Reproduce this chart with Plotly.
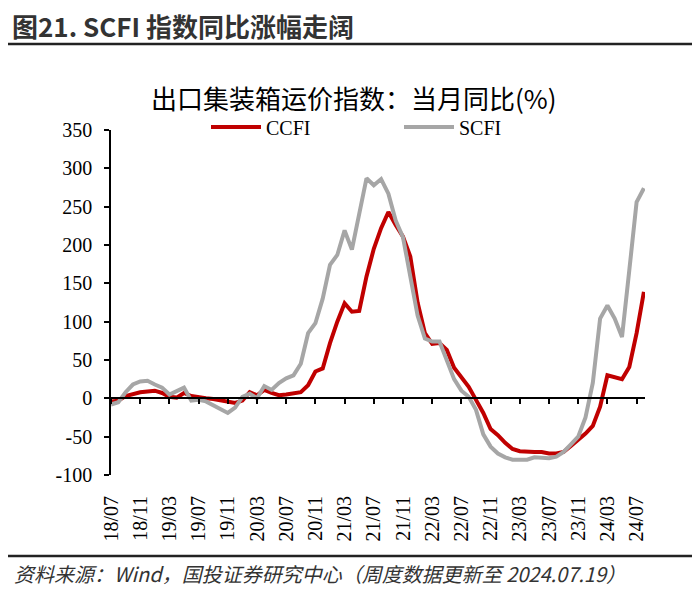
import plotly.graph_objects as go

# month index 0 = 2018/07
months = list(range(74))
tick_pos = list(range(0, 73, 4))
tick_text = ["18/07", "18/11", "19/03", "19/07", "19/11", "20/03", "20/07", "20/11",
             "21/03", "21/07", "21/11", "22/03", "22/07", "22/11", "23/03", "23/07",
             "23/11", "24/03", "24/07"]

ccfi = [-4, -3, 3, 6, 8, 9, 10, 7, 2, 1, 7, 3, 1, 0, -1, -3, -5, -6, -3, 8,
        4, 11, 7, 4, 5, 7, 8, 17, 35, 39, 72, 100, 124, 113, 114, 159, 195, 222, 243, 226,
        211, 185, 125, 85, 71, 72, 63, 40, 28, 15, -2, -19, -40, -48, -58, -66, -69, -70, -70, -70,
        -72, -72, -70, -62, -54, -46, -36, -11, 30, 28, 25, 41, 85, 139]

scfi = [-8, -5, 8, 18, 22, 23, 18, 14, 5, 10, 14, -3, -2, -4, -9, -14, -19, -12, 2, 6,
        0, 16, 11, 20, 26, 30, 45, 85, 98, 130, 174, 187, 219, 194, 241, 287, 278, 286, 267, 232,
        210, 160, 108, 78, 74, 74, 50, 25, 10, 2, -15, -47, -63, -72, -77, -80, -80, -80, -77, -77,
        -78, -76, -70, -60, -50, -25, 20, 104, 121, 104, 80, 167, 256, 274]

y_ticks = [-100, -50, 0, 50, 100, 150, 200, 250, 300, 350]
y_tick_text = ["-100", "-50", "0", "50", "100", "150", "200", "250", "300", "350"]

X_RANGE = [0, 73.15]
Y_RANGE = [-100, 350]

# page body has an 8px margin: work in window pixels, subtract offset
OFF = 8
W, H = 700 - OFF, 605 - OFF
L, T = 111 - OFF, 130 - OFF
R = 700 - 645
B = 605 - 475
PW, PH = W - L - R, H - T - B

def px(xp):
    return (xp - OFF - L) / PW

def py(yp):
    return (H - B - (yp - OFF)) / PH

serif = "Liberation Serif, Times New Roman, serif"
cjk = "Noto Sans CJK SC, sans-serif"

fig = go.Figure()
fig.add_trace(go.Scatter(x=months, y=ccfi, mode="lines", name="CCFI",
                         line=dict(color="#C00000", width=4)))
fig.add_trace(go.Scatter(x=months, y=scfi, mode="lines", name="SCFI",
                         line=dict(color="#A6A6A6", width=4)))
# empty trace so the zero-level tick axis is drawn
fig.add_trace(go.Scatter(x=[], y=[], xaxis="x2", showlegend=False, hoverinfo="skip"))

fig.update_layout(
    width=W, height=H,
    margin=dict(l=L, r=R, t=T, b=B),
    paper_bgcolor="white", plot_bgcolor="white",
    showlegend=True,
    legend=dict(orientation="h", x=px(206), y=py(127), xanchor="left", yanchor="middle",
                font=dict(family=serif, size=20, color="#000"),
                entrywidth=128, entrywidthmode="pixels",
                bgcolor="rgba(0,0,0,0)", itemwidth=50),
    xaxis=dict(range=X_RANGE, tickvals=tick_pos, ticktext=tick_text, tickangle=-90,
               showline=False, showgrid=False, zeroline=False,
               ticks="outside", ticklen=12, tickcolor="rgba(0,0,0,0)",
               tickfont=dict(family=serif, size=20, color="#000")),
    xaxis2=dict(range=X_RANGE, overlaying="x", anchor="free", position=100 / 450,
                tickvals=tick_pos, showticklabels=False, showline=True, linecolor="#000",
                linewidth=1.5, ticks="outside", ticklen=5, tickwidth=1.5, tickcolor="#000",
                showgrid=False, zeroline=False),
    yaxis=dict(range=Y_RANGE, tickvals=y_ticks, ticktext=y_tick_text, showline=True,
               linecolor="#000", linewidth=1.5,
               ticks="outside", ticklen=5, tickwidth=1.5, tickcolor="#000",
               showgrid=False, zeroline=False, ticklabelstandoff=8,
               tickfont=dict(family=serif, size=20, color="#000")),
)

annotations = [
    dict(text="图21. SCFI 指数同比涨幅走阔", x=px(10), y=py(25), xanchor="left", yanchor="middle",
         font=dict(family=cjk, size=26, color="#333333", weight="bold")),
    dict(text="出口集装箱运价指数：当月同比(%)", x=px(354), y=py(97), xanchor="center", yanchor="middle",
         font=dict(family=cjk, size=26, color="#000")),
    dict(text="资料来源：Wind，国投证券研究中心（周度数据更新至 2024.07.19）", x=px(12), y=py(573),
         xanchor="left", yanchor="middle",
         font=dict(family=cjk, size=20, color="#333333", style="italic")),
]
for a in annotations:
    a.update(xref="paper", yref="paper", showarrow=False)
fig.update_layout(annotations=annotations)

fig.update_layout(shapes=[
    dict(type="line", xref="paper", yref="paper", x0=px(8), x1=px(695), y0=py(44), y1=py(44),
         line=dict(color="#222222", width=2.5)),
    dict(type="line", xref="paper", yref="paper", x0=px(8), x1=px(695), y0=py(556), y1=py(556),
         line=dict(color="#222222", width=2.5)),
])

fig.write_html("out.html")
